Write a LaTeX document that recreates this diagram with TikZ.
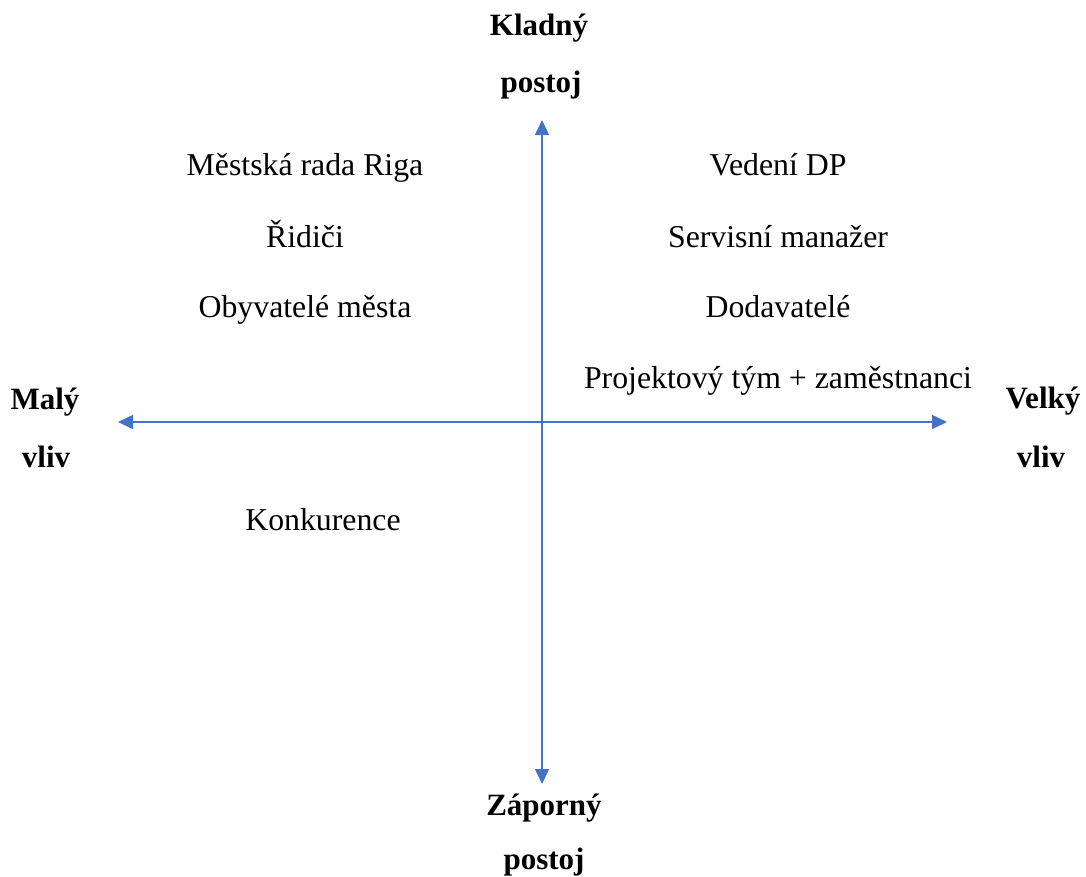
\documentclass[tikz,border=0pt]{standalone}
\usepackage{fontspec}
\setmainfont{Liberation Serif}
\usetikzlibrary{arrows.meta}
\definecolor{axisblue}{HTML}{4472C4}
\tikzset{
  lbl/.style={anchor=base, inner sep=0pt, font=\fontsize{31.8}{38}\selectfont},
  blbl/.style={anchor=base, inner sep=0pt, font=\fontsize{31}{38}\selectfont\bfseries},
  axis/.style={draw=axisblue, line width=1.6pt, {Triangle[length=15pt,width=14pt,fill=axisblue]}-{Triangle[length=15pt,width=14pt,fill=axisblue]}}
}
\begin{document}
\begin{tikzpicture}[x=1pt,y=-1pt]
\useasboundingbox (0,0) rectangle (1086,876);
\coordinate (left) at (118,422);
\coordinate (right) at (947,422);
\coordinate (top) at (542,120);
\coordinate (bottom) at (542,784);
\draw[axis] (left) -- (right);
\draw[axis] (top) -- (bottom);
% axis labels
\node[blbl] (k1) at (539,35) {Kladný};
\node[blbl] (k2) at (541,92) {postoj};
\node[blbl] (z1) at (544,815) {Záporný};
\node[blbl] (z2) at (544,869) {postoj};
\node[blbl] (m1) at (45,409) {Malý};
\node[blbl] (m2) at (46,467) {vliv};
\node[blbl] (v1) at (1043,408) {Velký};
\node[blbl] (v2) at (1041,467) {vliv};
% stakeholders
\node[lbl] (a1) at (305,175) {Městská rada Riga};
\node[lbl] (a2) at (305,247) {Řidiči};
\node[lbl] (a3) at (305,317) {Obyvatelé města};
\node[lbl] (b1) at (778,175) {Vedení DP};
\node[lbl] (b2) at (778,247) {Servisní manažer};
\node[lbl] (b3) at (778,317) {Dodavatelé};
\node[lbl] (b4) at (778,388) {Projektový tým + zaměstnanci};
\node[lbl] (c1) at (323,530) {Konkurence};
\end{tikzpicture}
\end{document}
